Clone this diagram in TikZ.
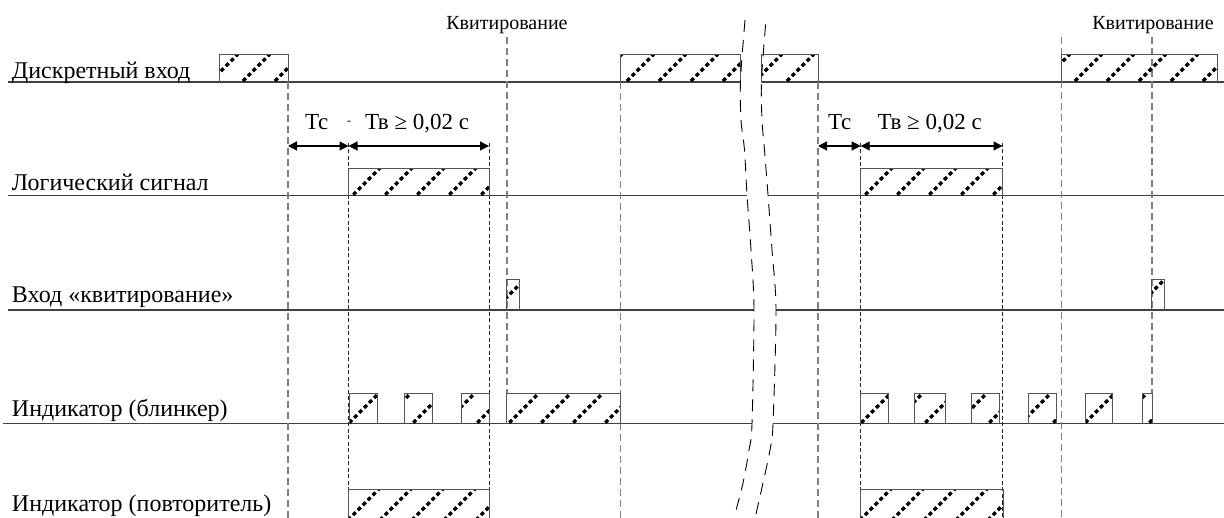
\documentclass[tikz,border=0pt]{standalone}
\usepackage{fontspec}
\setmainfont{Liberation Serif}
\usetikzlibrary{arrows.meta}
\definecolor{boxgrey}{HTML}{555555}
\definecolor{guidegrey}{HTML}{808080}
\tikzset{every node/.style={font=\fontsize{24}{28}\selectfont,inner sep=0pt,outer sep=0pt},
  sig/.style={draw=black!75,line width=1.5pt},
  pbox/.style={draw=boxgrey,line width=1pt},
  hatch/.style={draw=black,line width=3.2pt,dash pattern=on 4pt off 3pt},
  guide/.style={draw=guidegrey,line width=1.3pt,dash pattern=on 7pt off 4pt},
  edgeline/.style={draw=black!85,line width=0.9pt,dash pattern=on 4pt off 2.5pt},
  brk/.style={draw=black,line width=0.9pt,dash pattern=on 12pt off 8pt}}
\newcommand{\fK}{\fontsize{20}{24}\selectfont}
\newcommand{\fT}{\fontsize{23}{27}\selectfont}
\newcommand{\fH}{\fontsize{12}{14}\selectfont}
\newcommand{\pulse}[4]{% x1, x2, base y, top y
  \pgfmathtruncatemacro{\ka}{floor((#1+#4-772)/32)}%
  \pgfmathtruncatemacro{\kb}{ceil((#2+#3-772)/32)}%
  \begin{scope}
    \clip (#1,#4) rectangle (#2,#3);
    \foreach \k in {\ka,...,\kb}
      {\draw[hatch] ({772+32*\k-#3-4},{#3+4}) -- ({772+32*\k-#4+4},{#4-4});}
  \end{scope}
  \draw[pbox] (#1,#3) -- (#1,#4) -- (#2,#4) -- (#2,#3);}
\newcommand{\brkA}{(745,20) (740.5,80) (741,120) (744.5,150) (747,195) (751,250)
  (754,310) (752,424) (749,450) (743,483) (735,514)}
\newcommand{\brkB}{(756,514) (763,483) (770,450) (773,424) (776,310) (772,250)
  (768,195) (764.5,150) (762,120) (761.5,80) (766,20)}

\begin{document}
\begin{tikzpicture}[x=1pt,y=-1pt,
    dimarr/.style={draw=black,line width=1.3pt,
      {Triangle[length=9pt,width=9pt]}-{Triangle[length=9pt,width=9pt]}}]
  \path[use as bounding box] (0,0) rectangle (1224,518);
  \clip (0,0) rectangle (1224,518);

  % Signal baselines and their labels
  \draw[sig] (8,82) -- (1224,82);
  \draw[sig] (8,195.7) -- (1224,195.7);
  \draw[sig] (8,310) -- (1224,310);
  \draw[sig] (3,423.7) -- (1224,423.7);
  \node[anchor=base west] (ldin) at (12,79) {Дискретный вход};
  \node[anchor=base west] (llog) at (12,191) {Логический сигнал};
  \node[anchor=base west] (lack) at (12,303) {Вход «квитирование»};
  \node[anchor=base west] (lblk) at (12,416.7) {Индикатор (блинкер)};
  \node[anchor=base west] (lrep) at (12,511.5) {Индикатор (повторитель)};

  % Time marks
  \foreach \x/\ya in {288/82, 620.7/82, 818/82, 1061.7/37}
    {\draw[guide] (\x,\ya) -- (\x,520);}
  \foreach \x in {507, 1152}
    {\draw[guide] (\x,37) -- (\x,393.7);}
  \foreach \x in {348.5, 489, 860.7, 1002.5}
    {\draw[edgeline] (\x,143) -- (\x,520);}
  \node[font=\fK,anchor=base] (kv1) at (507,30) {Квитирование};
  \node[font=\fK,anchor=base] (kv2) at (1153,30) {Квитирование};

  % Time break
  \fill[white] plot[smooth] coordinates {\brkA} -- plot[smooth] coordinates {\brkB} -- cycle;

  % Pulses
  \foreach \a/\b in {219/288, 620.7/740.7, 761.7/818, 1061.7/1217.7}
    {\pulse{\a}{\b}{82}{55}}
  \foreach \a/\b in {348.5/489, 860.7/1002.5}
    {\pulse{\a}{\b}{195.7}{169}}
  \foreach \a/\b in {506.7/519, 1151.7/1164}
    {\pulse{\a}{\b}{310}{280}}
  \foreach \a/\b in {349.3/377.7, 404.3/432, 461.7/489, 506.7/620.7, 860.7/888,
      914.7/945, 971.7/999, 1028.7/1056, 1085.7/1112.7, 1142.7/1152.3}
    {\pulse{\a}{\b}{423.7}{393.7}}
  \foreach \a/\b in {348.5/489, 860.7/1003}
    {\pulse{\a}{\b}{521}{489.3}}

  % Delays
  \coordinate (s1) at (288,146);
  \coordinate (s2) at (348.5,146);
  \coordinate (s3) at (489,146);
  \coordinate (s4) at (818,146);
  \coordinate (s5) at (860.7,146);
  \coordinate (s6) at (1002.5,146);
  \draw[dimarr] (s1) -- (s2);
  \draw[dimarr] (s2) -- (s3);
  \draw[dimarr] (s4) -- (s5);
  \draw[dimarr] (s5) -- (s6);
  \node[font=\fT,anchor=base west] (tc1) at (305,130) {Тс};
  \node[font=\fH] (hy1) at (349,123) {-};
  \node[font=\fT,anchor=base west] (tv1) at (365,130) {Тв ≥ 0,02 с};
  \node[font=\fT,anchor=base west] (tc2) at (828,130) {Тс};
  \node[font=\fT,anchor=base west] (tv2) at (877.7,130) {Тв ≥ 0,02 с};

  \draw[brk] plot[smooth] coordinates {\brkA};
  \draw[brk] plot[smooth] coordinates {\brkB};
\end{tikzpicture}
\end{document}
